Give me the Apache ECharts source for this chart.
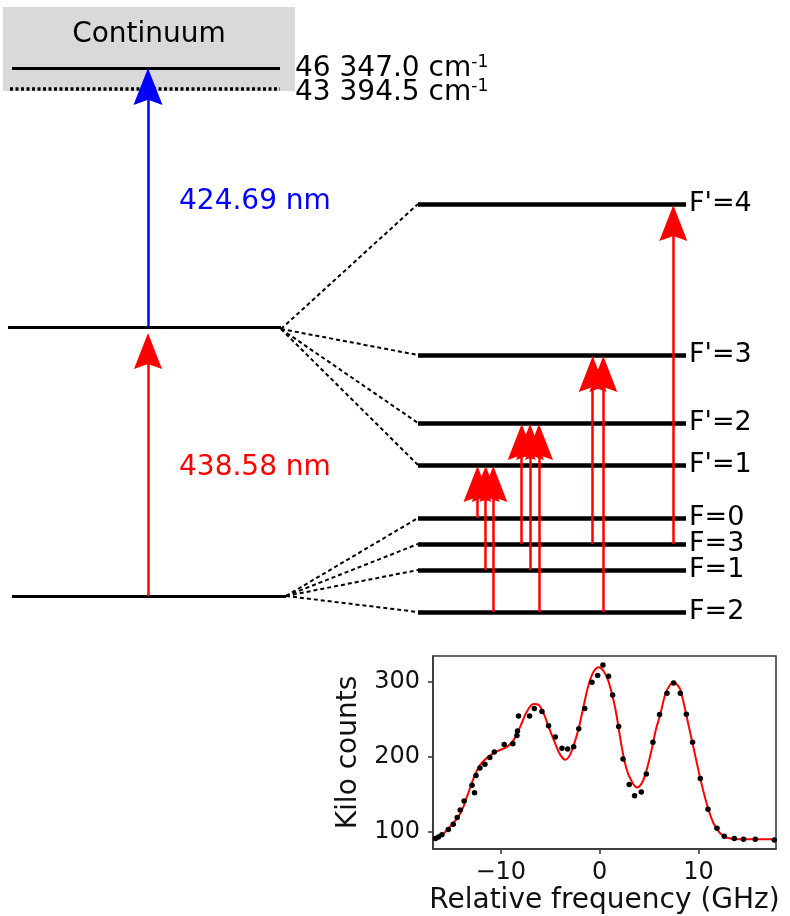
<!DOCTYPE html>
<html lang="en">
<head>
	<meta charset="UTF-8">
	<title>Hyperfine excitation scheme</title>
	<style type="text/css">
		html, body { margin: 0; padding: 0; background: #fff; }
		#main { width: 790px; height: 916px; }
	</style>
</head>
<body>
	<div id="main"></div>
	<script type="text/javascript" src="https://cdn.jsdelivr.net/npm/echarts@6/dist/echarts.min.js"></script>
	<script type="text/javascript">
		// level scheme, diagram units (x to the right, y downwards)
		var continuumBox = [[3, 7], [295, 91]];
		var ionLimit = [[12, 68], [280, 68]];
		var autoionLimit = [[10, 89], [280, 89]];
		var limitNames = ['46 347.0 cm', '43 394.5 cm'];
		var upperLevel = [[8, 327], [281, 327]];
		var groundLevel = [[12, 596], [286, 596]];
		var hfsSpan = [418, 686];
		var upperNames = ["F'=4", "F'=3", "F'=2", "F'=1"];
		var upperY = [204, 355, 423, 465];
		var lowerNames = ['F=0', 'F=3', 'F=1', 'F=2'];
		var lowerY = [518, 544, 570, 612];
		var laserX = 148;
		var laserNames = ['438.58 nm', '424.69 nm'];

		// hyperfine transitions
		var lineX = [477.5, 485.7, 493.3, 521.7, 530, 539, 592.7, 603.3, 673.3];
		var lineFrom = ['F=0', 'F=1', 'F=2', 'F=3', 'F=1', 'F=2', 'F=3', 'F=2', 'F=3'];
		var lineTo = ["F'=1", "F'=1", "F'=1", "F'=2", "F'=2", "F'=2", "F'=3", "F'=3", "F'=4"];

		// measured spectrum (GHz, kilo counts)
		var scanX = [-16.6, -16.3, -15.95, -15.3, -14.8, -14.4, -14.1, -13.7, -12.9, -12.65, -12.5, -12.1, -11.6, -11.1, -10.65,
			-9.65, -8.77, -8.36, -8.3, -8.2, -7.08, -6.6, -5.83, -5.16, -4.48, -3.8, -3.23, -2.62, -2.1, -1.5, -0.77, -0.19, 0.34,
			0.91, 1.32, 1.93, 2.37, 3.0, 3.54, 4.22, 4.73, 5.4, 6.07, 6.82, 7.49, 8.17, 8.78, 9.41, 10.19, 10.97, 11.88, 12.62,
			13.63, 14.57, 15.76, 17.68];
		var scanY = [91, 93, 96, 103, 110, 119, 129, 141, 162, 152, 175, 185, 190, 199, 206,
			216, 217, 228, 234, 254, 254, 264, 260, 241, 226, 211, 210, 213, 237, 264, 299, 308, 322,
			307, 282, 240, 197, 163, 148, 153, 177, 219, 256, 284.5, 298, 284.5, 256.5, 219, 171, 130, 104.5, 94,
			91, 90, 90, 89];
		var fitX = [-16.85, -16, -15.1, -14.1, -13.4, -12.75, -12.07, -11.23, -10.38, -9.37, -8.7, -8.03, -7.35, -6.68, -6.17,
			-5.67, -5.16, -4.5, -4, -3.47, -3, -2.5, -2.1, -1.6, -1.1, -0.6, -0.1, 0.4, 0.91, 1.59, 2.27, 2.7, 3.1, 3.78, 4.2,
			4.63, 5.3, 5.7, 6.14, 6.65, 7.1, 7.49, 7.9, 8.17, 8.5, 8.85, 9.52, 10.19, 10.87, 11.54, 12.2, 12.9, 14.2, 17.85];
		var fitY = [90, 95, 107, 124, 147, 171, 189, 200, 207, 213, 222, 240, 260, 270, 269,
			258, 240, 218, 203, 196, 202, 220, 238, 268, 296, 313, 319, 314, 300, 264, 211, 185, 171, 159, 163,
			176, 211, 236, 256, 283, 295, 299, 295, 289, 272, 251, 211, 171, 136, 111, 98, 92, 90, 90];
		var freqTicks = [-10, 0, 10];
		var countTicks = [100, 200, 300];

		var FONT = 'DejaVu Sans';
		var RED = '#ff0000';
		var BLUE = '#0000ff';
		var HEAD = 'path://M14,0 L28,36 L14,31 L0,36 Z';

		function levelY(name) {
			var i = upperNames.indexOf(name);
			if (i >= 0) return upperY[i];
			return lowerY[lowerNames.indexOf(name)];
		}

		function segs(list) {
			return list.map(function (c) { return { coords: c }; });
		}

		function linesSeries(data, color, width, type, z) {
			return {
				type: 'lines',
				coordinateSystem: 'cartesian2d',
				xAxisIndex: 0,
				yAxisIndex: 0,
				silent: true,
				z: z || 2,
				lineStyle: { color: color, width: width, type: type || 'solid', opacity: 1 },
				data: segs(data)
			};
		}

		function textSeries(items, opts) {
			return {
				type: 'scatter',
				xAxisIndex: 0,
				yAxisIndex: 0,
				symbolSize: 0,
				silent: true,
				z: 10,
				itemStyle: { opacity: 1 },
				label: Object.assign({
					show: true,
					fontFamily: FONT,
					color: '#000',
					opacity: 1,
					formatter: function (p) { return p.name; }
				}, opts),
				data: items
			};
		}

		var hfsLevels = [];
		var fanLines = [];
		upperY.forEach(function (y) {
			hfsLevels.push([[hfsSpan[0], y], [hfsSpan[1], y]]);
			fanLines.push([[upperLevel[1][0], upperLevel[1][1] + 2], [hfsSpan[0], y]]);
		});
		lowerY.forEach(function (y) {
			hfsLevels.push([[hfsSpan[0], y], [hfsSpan[1], y]]);
			fanLines.push([groundLevel[1], [hfsSpan[0], y]]);
		});

		// arrow shafts and heads
		var redShafts = [], redHeads = [];
		lineX.forEach(function (x, i) {
			var tip = levelY(lineTo[i]) + 1;
			redShafts.push([[x, levelY(lineFrom[i])], [x, tip + 24]]);
			redHeads.push([x, tip]);
		});
		var redTip = upperLevel[0][1] + 6;
		redShafts.push([[laserX, groundLevel[0][1]], [laserX, redTip + 24]]);
		redHeads.push([laserX, redTip]);
		var blueShaft = [[[laserX, upperLevel[0][1]], [laserX, ionLimit[0][1] + 24]]];
		var blueHead = [[laserX, ionLimit[0][1]]];

		var levelLabels = [];
		upperNames.concat(lowerNames).forEach(function (n) {
			levelLabels.push({ name: n, value: [hfsSpan[1] + 3, levelY(n)] });
		});

		var chart = echarts.init(document.getElementById('main'), null, { renderer: 'canvas' });

		var option = {
			animation: false,
			backgroundColor: '#fff',
			textStyle: { fontFamily: FONT },
			grid: [
				{ left: 0, top: 0, width: 790, height: 916, show: false },
				{ left: 433, top: 656, width: 343, height: 193, show: true, borderColor: '#333', borderWidth: 1.5, backgroundColor: 'transparent' }
			],
			xAxis: [
				{ gridIndex: 0, type: 'value', min: 0, max: 790, show: false },
				{
					gridIndex: 1, type: 'value', min: -16.85, max: 17.85,
					axisLine: { show: true, onZero: false, lineStyle: { color: '#333', width: 1.5 } },
					axisTick: { show: true, length: 5, customValues: freqTicks, lineStyle: { color: '#333', width: 1.5 } },
					axisLabel: {
						customValues: freqTicks, fontSize: 24, color: '#111', margin: 12, fontFamily: FONT,
						formatter: function (v) { return String(v).replace('-', '\u2212'); }
					},
					splitLine: { show: false },
					name: 'Relative frequency (GHz)',
					nameLocation: 'middle',
					nameGap: 38,
					nameTextStyle: { fontSize: 28, color: '#111', fontFamily: FONT }
				}
			],
			yAxis: [
				{ gridIndex: 0, type: 'value', min: 0, max: 916, inverse: true, show: false },
				{
					gridIndex: 1, type: 'value', min: 77, max: 334,
					axisLine: { show: true, onZero: false, lineStyle: { color: '#333', width: 1.5 } },
					axisTick: { show: true, length: 5, customValues: countTicks, lineStyle: { color: '#333', width: 1.5 } },
					axisLabel: { customValues: countTicks, fontSize: 24, color: '#111', margin: 13, fontFamily: FONT },
					splitLine: { show: false },
					name: 'Kilo counts',
					nameLocation: 'middle',
					nameGap: 70,
					nameRotate: 90,
					nameTextStyle: { fontSize: 28, color: '#111', fontFamily: FONT }
				}
			],
			series: [
				// continuum shading
				{
					type: 'line',
					xAxisIndex: 0,
					yAxisIndex: 0,
					data: [],
					silent: true,
					markArea: {
						silent: true,
						itemStyle: { color: '#d9d9d9', opacity: 1 },
						data: [[{ coord: continuumBox[0] }, { coord: continuumBox[1] }]]
					}
				},
				linesSeries([ionLimit, upperLevel, groundLevel], '#000', 3),
				linesSeries([autoionLimit], '#000', 3.5, [3, 2.5]),
				linesSeries(hfsLevels, '#000', 4.5),
				linesSeries(fanLines, '#000', 2, [4, 3]),
				linesSeries(redShafts, RED, 2.5, 'solid', 5),
				linesSeries(blueShaft, BLUE, 2.5, 'solid', 5),
				{
					type: 'scatter', xAxisIndex: 0, yAxisIndex: 0, silent: true, z: 6,
					symbol: HEAD, symbolSize: [28, 36], symbolOffset: [0, 18],
					itemStyle: { color: RED, opacity: 1 },
					data: redHeads
				},
				{
					type: 'scatter', xAxisIndex: 0, yAxisIndex: 0, silent: true, z: 6,
					symbol: HEAD, symbolSize: [29, 37], symbolOffset: [0, 18.5],
					itemStyle: { color: BLUE, opacity: 1 },
					data: blueHead
				},
				textSeries([{ name: 'Continuum', value: [(continuumBox[0][0] + continuumBox[1][0]) / 2, continuumBox[0][1] + 28] }],
					{ position: 'inside', fontSize: 28 }),
				textSeries([
					{ name: limitNames[0], value: [ionLimit[1][0] + 15, ionLimit[0][1] + 1] },
					{ name: limitNames[1], value: [autoionLimit[1][0] + 15, autoionLimit[0][1] + 4] }
				], {
					position: 'right', distance: 0,
					formatter: function (p) { return '{a|' + p.name + '}{s|-1}'; },
					rich: {
						a: { fontSize: 28, lineHeight: 30, fontFamily: FONT, color: '#000' },
						s: { fontSize: 17, lineHeight: 16, verticalAlign: 'top', fontFamily: FONT, color: '#000' }
					}
				}),
				textSeries([{ name: laserNames[0], value: [laserX + 31, (groundLevel[0][1] + upperLevel[0][1]) / 2 + 6] }],
					{ position: 'right', distance: 0, fontSize: 28, color: RED }),
				textSeries([{ name: laserNames[1], value: [laserX + 31, (upperLevel[0][1] + ionLimit[0][1]) / 2 + 4] }],
					{ position: 'right', distance: 0, fontSize: 28, color: BLUE }),
				textSeries(levelLabels, { position: 'right', distance: 0, fontSize: 27 }),
				// spectrum inset
				{
					type: 'line',
					xAxisIndex: 1,
					yAxisIndex: 1,
					smooth: 0.35,
					showSymbol: false,
					silent: true,
					lineStyle: { color: RED, width: 2 },
					data: fitX.map(function (x, i) { return [x, fitY[i]]; }),
					z: 3
				},
				{
					type: 'scatter',
					xAxisIndex: 1,
					yAxisIndex: 1,
					symbolSize: 5.5,
					silent: true,
					itemStyle: { color: '#000', opacity: 1 },
					data: scanX.map(function (x, i) { return [x, scanY[i]]; }),
					z: 4
				}
			]
		};

		chart.setOption(option);
	</script>
</body>
</html>
